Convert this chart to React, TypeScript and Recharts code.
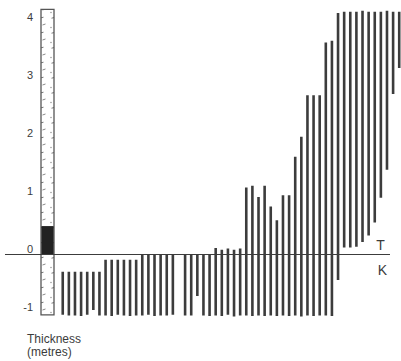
import {
  BarChart,
  Bar,
  XAxis,
  YAxis,
  ReferenceLine,
  ReferenceArea,
} from "recharts";

// bed thickness along the section, one slot per column (null = no column)
const highs: (number | null)[] = [
  -0.29, -0.29, -0.29, -0.29, -0.29, -0.29, -0.29,
  -0.09, -0.09, -0.09, -0.09, -0.09, -0.09,
  0.01, 0.01, 0.01, 0.01, 0.01, 0.01,
  null,
  0.01, 0.01, 0.01, 0.01, 0.01,
  0.11, 0.08, 0.1, 0.08, 0.1,
  1.13, 1.16, 0.97, 1.16, 0.81, 0.58, 1.0, 1.0,
  1.65, 1.99,
  2.69, 2.69, 2.69,
  3.58, 3.61,
  4.08, 4.1, 4.1, 4.1, 4.12, 4.1, 4.1, 4.1, 4.12, 4.1, 4.1,
];

const lows: (number | null)[] = [
  -1.02, -1.03, -1.03, -1.04, -1.02, -0.94, -1.03,
  -1.03, -1.04, -1.02, -1.03, -1.04, -1.03,
  -1.03, -1.02, -1.04, -1.03, -1.03, -1.02,
  null,
  -1.03, -1.03, -0.7, -1.03, -1.04,
  -1.03, -1.04, -1.02, -1.05, -1.03,
  -1.03, -1.04, -1.03, -1.04, -1.03, -1.04, -1.03, -1.04,
  -1.03, -1.05,
  -1.03, -1.04, -1.03,
  -1.03, -1.04,
  -0.43, 0.12, 0.12, 0.13, 0.21, 0.32, 0.54, 0.96, 1.43, 2.71, 3.15,
];

const thicknessTicks = [-1, 0, 1, 2, 3, 4];
const scaleBar = [-1.02, 4.14];
const scaleFill = [0, 0.48];

const data = highs.map((h, i) => ({
  i,
  range: h === null || lows[i] === null ? null : [lows[i], h],
}));

const INK = "#3c3c3c";
const FONT = "'Liberation Sans', Arial, sans-serif";

function ThickTick({ y, payload }: any) {
  return (
    <text x={33} y={y} dy={4} textAnchor="end" fontSize={11} fill={INK} fontFamily={FONT}>
      {payload.value}
    </text>
  );
}

export default function App() {
  return (
    <div style={{ position: "absolute", left: 0, top: 0, width: 401, height: 361 }}>
      <svg width={0} height={0} style={{ position: "absolute" }}>
        <defs>
          <pattern id="scaleDots" width={12} height={15} patternUnits="userSpaceOnUse">
            <rect width={12} height={15} fill="#fff" />
            <line x1={3.5} y1={3.2} x2={7.5} y2={2.2} stroke="#777" strokeWidth={1} />
            <line x1={6.5} y1={10} x2={9.5} y2={9} stroke="#888" strokeWidth={1} />
            <circle cx={3} cy={12.5} r={0.7} fill="#888" />
          </pattern>
        </defs>
      </svg>
      <BarChart
        width={401}
        height={361}
        data={data}
        margin={{ top: 0, right: 0, bottom: 35.5, left: 0 }}
      >
        <XAxis type="number" dataKey="i" domain={[-10.216, 55.33]} hide allowDataOverflow />
        <YAxis yAxisId="v" type="number" domain={[-1.2, 4.3]} hide allowDataOverflow />
        <YAxis
          yAxisId="lab"
          type="number"
          domain={[-1.319, 4.293]}
          ticks={thicknessTicks}
          mirror
          axisLine={false}
          tickLine={false}
          tick={<ThickTick />}
          allowDataOverflow
        />
        <ReferenceArea
          yAxisId="v"
          x1={-3.514}
          x2={-1.389}
          y1={scaleBar[0]}
          y2={scaleBar[1]}
          fill="url(#scaleDots)"
          fillOpacity={1}
          stroke="#555"
          strokeWidth={1.3}
        />
        <ReferenceArea
          yAxisId="v"
          x1={-3.45}
          x2={-1.45}
          y1={scaleFill[0]}
          y2={scaleFill[1]}
          fill="#222"
          fillOpacity={1}
        />
        <Bar yAxisId="v" dataKey="range" fill={INK} barSize={2.6} isAnimationActive={false} />
        <ReferenceLine
          yAxisId="v"
          segment={[
            { x: -9.4, y: 0 },
            { x: 53.53, y: 0 },
          ]}
          stroke={INK}
          strokeWidth={1.2}
        />
      </BarChart>
      <svg
        width={401}
        height={361}
        style={{ position: "absolute", left: 0, top: 0, pointerEvents: "none" }}
        fontFamily={FONT}
        fill={INK}
      >
        <text x={380.5} y={250} fontSize={14} textAnchor="middle">T</text>
        <text x={382.5} y={275} fontSize={14} textAnchor="middle">K</text>
        <text x={27} y={343} fontSize={12}>Thickness</text>
        <text x={27} y={356} fontSize={12}>(metres)</text>
      </svg>
    </div>
  );
}
